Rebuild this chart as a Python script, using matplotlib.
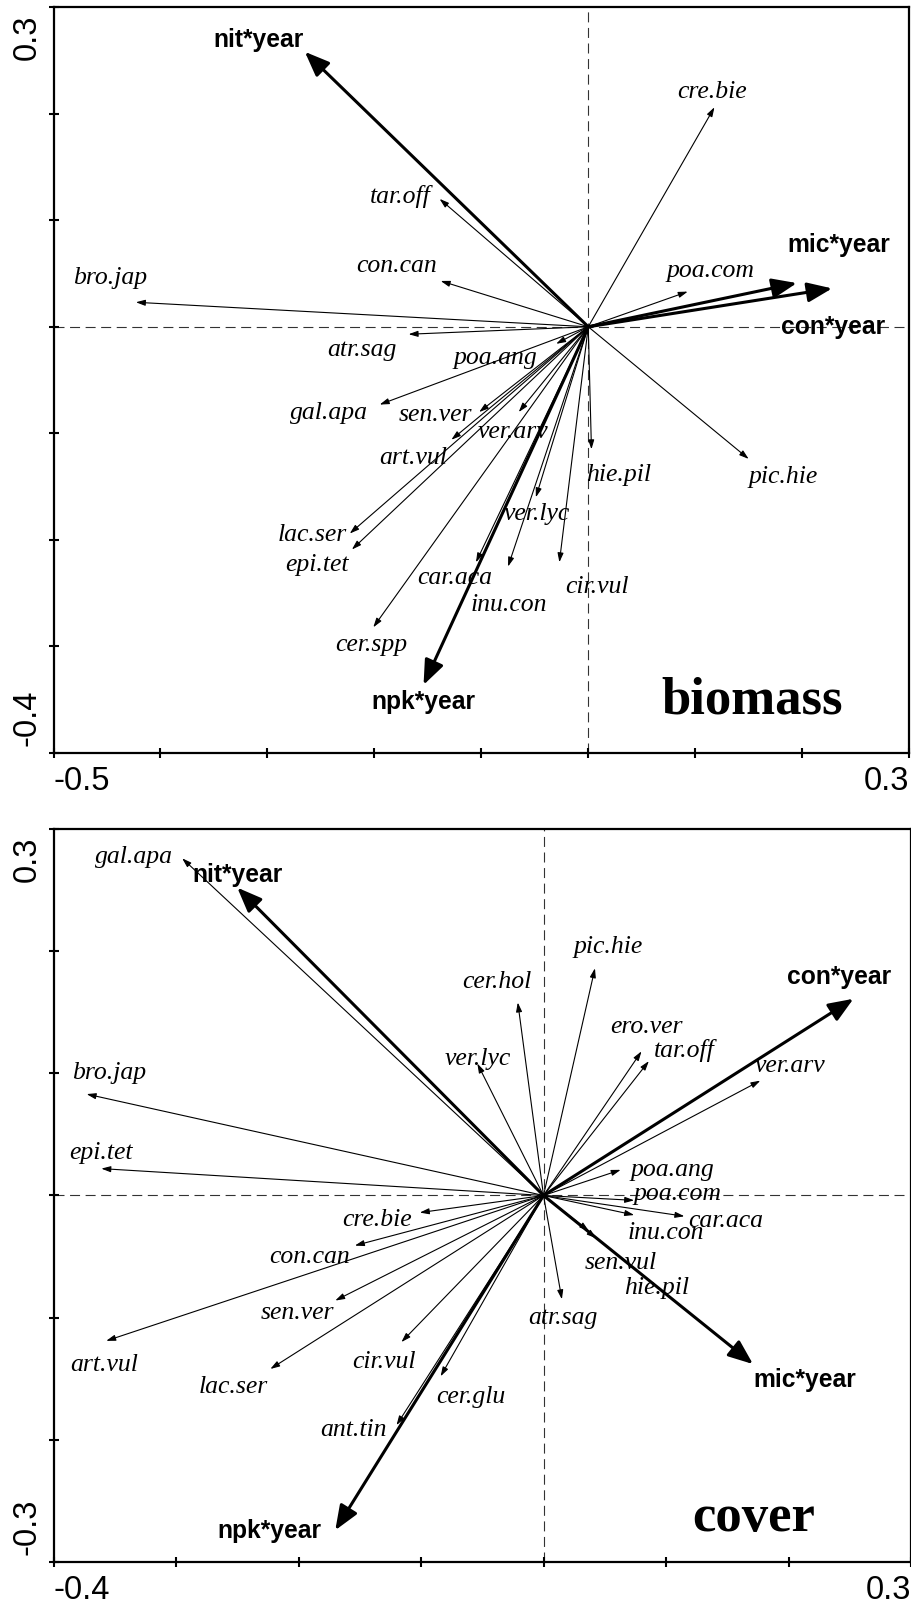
import numpy as np
import matplotlib.pyplot as plt

plt.rcParams["axes.unicode_minus"] = False

# ---- biomass ordination ----
bio_species = ["bro.jap", "tar.off", "con.can", "cre.bie", "poa.com", "atr.sag",
               "poa.ang", "gal.apa", "sen.ver", "ver.arv", "art.vul", "lac.ser",
               "epi.tet", "cer.spp", "car.aca", "inu.con", "ver.lyc", "cir.vul",
               "hie.pil", "pic.hie"]
bio_sp_x = [-0.423, -0.139, -0.138, 0.118, 0.093, -0.168, -0.030, -0.195, -0.102, -0.065,
            -0.128, -0.223, -0.221, -0.201, -0.105, -0.075, -0.049, -0.027, 0.003, 0.150]
bio_sp_y = [0.023, 0.120, 0.043, 0.206, 0.033, -0.007, -0.016, -0.073, -0.080, -0.080,
            -0.106, -0.194, -0.209, -0.282, -0.221, -0.225, -0.160, -0.221, -0.115, -0.124]
bio_env = ["nit*year", "mic*year", "con*year", "npk*year"]
bio_env_x = [-0.265, 0.195, 0.228, -0.154]
bio_env_y = [0.258, 0.041, 0.036, -0.336]

# ---- cover ordination ----
cov_species = ["gal.apa", "bro.jap", "epi.tet", "art.vul", "lac.ser", "cre.bie",
               "con.can", "sen.ver", "cir.vul", "cer.glu", "ant.tin", "atr.sag",
               "poa.ang", "poa.com", "car.aca", "inu.con", "sen.vul", "hie.pil",
               "cer.hol", "pic.hie", "ero.ver", "tar.off", "ver.lyc", "ver.arv"]
cov_sp_x = [-0.295, -0.373, -0.361, -0.357, -0.223, -0.101, -0.154, -0.170, -0.116, -0.084,
            -0.120, 0.015, 0.063, 0.074, 0.115, 0.074, 0.043, 0.037, -0.021, 0.042,
            0.080, 0.086, -0.054, 0.177]
cov_sp_y = [0.276, 0.083, 0.022, -0.119, -0.142, -0.014, -0.041, -0.086, -0.120, -0.148,
            -0.188, -0.085, 0.021, -0.004, -0.017, -0.016, -0.035, -0.029, 0.158, 0.186,
            0.118, 0.110, 0.108, 0.094]
cov_env = ["nit*year", "con*year", "mic*year", "npk*year"]
cov_env_x = [-0.250, 0.253, 0.171, -0.170]
cov_env_y = [0.252, 0.161, -0.138, -0.274]

# where each name is written (data units)
bio_sp_lab = [(-0.447, 0.046), (-0.176, 0.122), (-0.179, 0.057), (0.116, 0.220),
              (0.114, 0.052), (-0.212, -0.022), (-0.087, -0.029), (-0.242, -0.081),
              (-0.143, -0.083), (-0.070, -0.099), (-0.164, -0.123), (-0.258, -0.195),
              (-0.254, -0.224), (-0.203, -0.299), (-0.125, -0.236), (-0.074, -0.261),
              (-0.048, -0.176), (0.008, -0.244), (0.028, -0.139), (0.182, -0.141)]
bio_env_lab = [(-0.308, 0.269), (0.234, 0.077), (0.229, 0.0), (-0.154, -0.352)]
cov_sp_lab = [(-0.334, 0.277), (-0.355, 0.100), (-0.361, 0.035), (-0.359, -0.139),
              (-0.253, -0.157), (-0.136, -0.020), (-0.191, -0.050), (-0.201, -0.096),
              (-0.130, -0.136), (-0.059, -0.165), (-0.155, -0.192), (0.016, -0.100),
              (0.105, 0.021), (0.109, 0.001), (0.149, -0.021), (0.100, -0.031),
              (0.063, -0.055), (0.092, -0.076), (-0.038, 0.175), (0.053, 0.203),
              (0.084, 0.138), (0.115, 0.119), (-0.054, 0.112), (0.201, 0.106)]
cov_env_lab = [(-0.250, 0.262), (0.241, 0.179), (0.213, -0.151), (-0.224, -0.275)]

SERIF = "Liberation Serif"
SANS = "Liberation Sans"


def arrow(ax, x, y, thick):
    if thick:
        props = dict(arrowstyle="-|>,head_length=1.0,head_width=0.4", lw=2.2,
                     mutation_scale=15, color="black", shrinkA=0, shrinkB=0)
    else:
        props = dict(arrowstyle="-|>,head_length=1.0,head_width=0.32", lw=0.8,
                     mutation_scale=5.5, color="black", shrinkA=0, shrinkB=0)
    ax.annotate("", xy=(x, y), xytext=(0, 0), arrowprops=props, zorder=3)


def panel(ax, xlim, ylim, sp, sx, sy, slab, env, ex, ey, elab, title, title_y):
    ax.set_xlim(xlim)
    ax.set_ylim(ylim)
    ax.axhline(0, color="0.2", lw=0.8, ls=(0, (9, 5)), zorder=1)
    ax.axvline(0, color="0.2", lw=0.8, ls=(0, (9, 5)), zorder=1)

    for name, x, y, (lx, ly) in zip(sp, sx, sy, slab):
        arrow(ax, x, y, False)
        ax.text(lx, ly, name, family=SERIF, style="italic", fontsize=18.5,
                ha="center", va="center", zorder=4)
    for name, x, y, (lx, ly) in zip(env, ex, ey, elab):
        arrow(ax, x, y, True)
        ax.text(lx, ly, name, family=SANS, weight="bold", fontsize=17.7,
                ha="center", va="center", zorder=4)

    ax.text(0.817, title_y, title, transform=ax.transAxes, family=SERIF,
            weight="bold", fontsize=38, ha="center", va="center")

    xt = np.round(np.arange(xlim[0], xlim[1] + 1e-9, 0.1), 1)
    yt = np.round(np.arange(ylim[0], ylim[1] + 1e-9, 0.1), 1)
    ax.set_xticks(xt)
    ax.set_yticks(yt)
    ax.set_xticklabels([f"{xt[0]:g}"] + [""] * (len(xt) - 2) + [f"{xt[-1]:g}"],
                       family=SANS, fontsize=23.5)
    ax.set_yticklabels([])
    xl = ax.get_xticklabels()
    xl[0].set_ha("left")
    xl[-1].set_ha("right")
    ax.tick_params(direction="inout", length=7, width=1.5, pad=6)

    # end values of the vertical axis, written sideways and pulled inward
    ax.annotate(f"{yt[-1]:g}", xy=(0, 1), xycoords="axes fraction",
                xytext=(-7.6, -5.5), textcoords="offset points", rotation=90,
                ha="right", va="top", family=SANS, fontsize=23.5)
    ax.annotate(f"{yt[0]:g}", xy=(0, 0), xycoords="axes fraction",
                xytext=(-7.6, 5.0), textcoords="offset points", rotation=90,
                ha="right", va="bottom", family=SANS, fontsize=23.5)

    for s in ax.spines.values():
        s.set_linewidth(1.6)


fig = plt.figure(figsize=(9.12, 16.05), dpi=100)
ax1 = fig.add_axes([0.0587, 0.5308, 0.9381, 0.4648])
ax2 = fig.add_axes([0.0587, 0.0268, 0.9402, 0.4567])

panel(ax1, (-0.5, 0.3), (-0.4, 0.3), bio_species, bio_sp_x, bio_sp_y, bio_sp_lab,
      bio_env, bio_env_x, bio_env_y, bio_env_lab, "biomass", 0.071)
panel(ax2, (-0.4, 0.3), (-0.3, 0.3), cov_species, cov_sp_x, cov_sp_y, cov_sp_lab,
      cov_env, cov_env_x, cov_env_y, cov_env_lab, "cover", 0.060)

fig.savefig("out.png", dpi=100)
